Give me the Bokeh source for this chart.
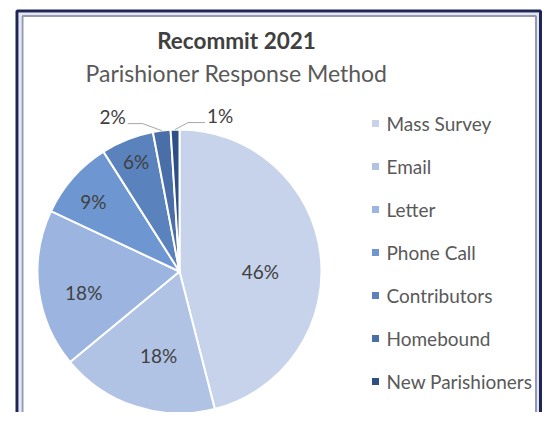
import math
from bokeh.plotting import figure
from bokeh.models import Range1d
from bokeh.core.properties import value
from bokeh.embed import file_html
from bokeh.resources import INLINE

title = "Recommit 2021"
subtitle = "Parishioner Response Method"
categories = ["Mass Survey", "Email", "Letter", "Phone Call", "Contributors", "Homebound", "New Parishioners"]
percents = [46, 18, 18, 9, 6, 2, 1]
colors = ["#c6d3ea", "#b1c3e4", "#9bb5e0", "#6e97d1", "#5a82bd", "#4a6fa8", "#2e4f85"]

FONT = "Lato"
W, H = 542, 412
p = figure(width=W, height=H, x_range=Range1d(0, W), y_range=Range1d(-H, 0),
           output_backend="svg", toolbar_location=None, min_border=0,
           x_axis_type=None, y_axis_type=None)
p.grid.visible = False
p.outline_line_color = None
p.background_fill_color = "white"
p.border_fill_color = "white"

# frame
p.quad(left=16.5, right=540, top=-10.5, bottom=-440, fill_color=None,
       line_color="#1f2557", line_width=3)
p.quad(left=19.5, right=537.5, top=-13.5, bottom=-437, fill_color=None,
       line_color="#dcdee8", line_width=1.5)
p.quad(left=22, right=535.5, top=-15.5, bottom=-430, fill_color=None,
       line_color="#9398b8", line_width=2)

# titles
p.text(x=[236], y=[-40], text=[title], text_font=value(FONT), text_font_style="bold",
       text_font_size="22.5px", text_color="#404040", text_align="center", text_baseline="middle")
p.text(x=[236], y=[-72], text=[subtitle], text_font=value(FONT),
       text_font_size="23px", text_color="#595959", text_align="center", text_baseline="middle")

# pie
cx, cy, r = 179, -271, 142
total = float(sum(percents))
cum = 0.0
starts, ends, mids = [], [], []
for v in percents:
    a0 = cum / total * 2 * math.pi
    cum += v
    a1 = cum / total * 2 * math.pi
    starts.append(math.pi / 2 - a0)
    ends.append(math.pi / 2 - a1)
    mids.append((a0 + a1) / 2)
p.wedge(x=cx, y=cy, radius=r, start_angle=starts, end_angle=ends, direction="clock",
        fill_color=colors, line_color="white", line_width=2)

# inside labels: radial fraction and angular nudge (degrees) per label
label_frac = [0.57, 0.61, 0.69, 0.78, 0.83]
label_nudge = [7.2, -4.1, -5.0, -2.4, 0.0]
lx, ly, lt = [], [], []
for i, f in enumerate(label_frac):
    th = mids[i] + math.radians(label_nudge[i])
    lx.append(cx + f * r * math.sin(th))
    ly.append(cy + f * r * math.cos(th))
    lt.append(f"{percents[i]}%")
p.text(x=lx, y=ly, text=lt, text_font=value(FONT), text_font_size="19px",
       text_color="#404040", text_align="center", text_baseline="middle")

# outside labels with leader lines: (index, elbow dx, elbow dy, horizontal run)
outside = [(5, -19, 7, -15), (6, 13, 7, 17)]
for idx, edx, edy, run in outside:
    th = mids[idx]
    ex = cx + r * math.sin(th)
    ey = cy + r * math.cos(th)
    kx, ky = ex + edx, ey + edy
    hx = kx + run
    p.line(x=[ex, kx, hx], y=[ey, ky, ky], line_color="#a6a6a6", line_width=1)
    side = "right" if run < 0 else "left"
    tx = hx - 2 if run < 0 else hx + 2
    p.text(x=[tx], y=[ky + 7], text=[f"{percents[idx]}%"], text_font=value(FONT),
           text_font_size="19px", text_color="#404040", text_align=side, text_baseline="middle")

# legend
leg_y = [-(123 + i * 43) for i in range(len(categories))]
p.rect(x=[375] * len(categories), y=leg_y, width=7, height=7, fill_color=colors, line_color=None)
p.text(x=[386] * len(categories), y=leg_y, text=categories, text_font=value(FONT),
       text_font_size="19px", text_color="#595959", text_align="left", text_baseline="middle")

open("out.html", "w").write(file_html(p, INLINE))
